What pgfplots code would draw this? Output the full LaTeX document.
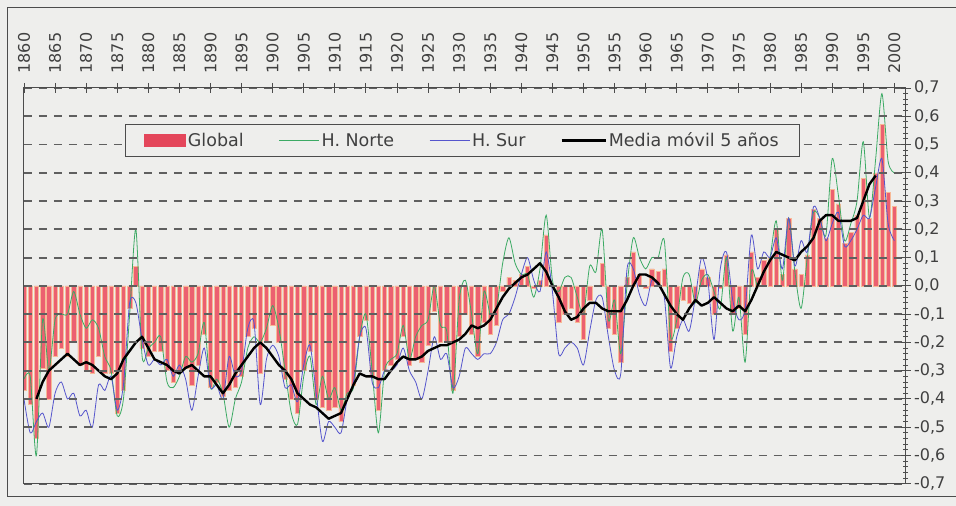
\documentclass[border=0pt]{standalone}
\usepackage{pgfplots}
\pgfplotsset{compat=1.18}
\usepackage{pgfplotstable}
\usepackage{fontspec}
\setmainfont{DejaVu Sans}
\definecolor{bg}{RGB}{238,238,236}
\definecolor{barfill}{RGB}{236,96,112}
\definecolor{baredge}{RGB}{247,185,150}
\definecolor{legbar}{RGB}{228,70,90}
\definecolor{nh}{RGB}{60,170,100}
\definecolor{sh}{RGB}{85,85,205}
\definecolor{gridc}{RGB}{95,95,95}

\pgfplotstableread{
year G N S
1860 -0.37 -0.33 -0.40
1861 -0.42 -0.32 -0.52
1862 -0.54 -0.60 -0.48
1863 -0.29 -0.12 -0.45
1864 -0.40 -0.30 -0.50
1865 -0.25 -0.12 -0.38
1866 -0.22 -0.10 -0.34
1867 -0.25 -0.10 -0.40
1868 -0.20 -0.02 -0.38
1869 -0.28 -0.10 -0.46
1870 -0.30 -0.15 -0.44
1871 -0.31 -0.12 -0.50
1872 -0.25 -0.15 -0.35
1873 -0.31 -0.25 -0.37
1874 -0.31 -0.30 -0.32
1875 -0.45 -0.46 -0.44
1876 -0.37 -0.40 -0.35
1877 -0.08 -0.10 -0.06
1878 0.07 0.20 -0.06
1879 -0.22 -0.25 -0.19
1880 -0.25 -0.22 -0.28
1881 -0.23 -0.20 -0.26
1882 -0.23 -0.18 -0.28
1883 -0.30 -0.34 -0.26
1884 -0.34 -0.36 -0.32
1885 -0.30 -0.32 -0.28
1886 -0.29 -0.25 -0.33
1887 -0.35 -0.27 -0.44
1888 -0.28 -0.24 -0.32
1889 -0.17 -0.13 -0.22
1890 -0.36 -0.36 -0.36
1891 -0.34 -0.33 -0.35
1892 -0.39 -0.38 -0.40
1893 -0.37 -0.50 -0.25
1894 -0.36 -0.40 -0.32
1895 -0.32 -0.34 -0.30
1896 -0.18 -0.22 -0.15
1897 -0.15 -0.18 -0.13
1898 -0.31 -0.20 -0.42
1899 -0.20 -0.15 -0.26
1900 -0.14 -0.07 -0.21
1901 -0.20 -0.15 -0.25
1902 -0.33 -0.30 -0.36
1903 -0.40 -0.45 -0.35
1904 -0.45 -0.49 -0.41
1905 -0.30 -0.32 -0.28
1906 -0.23 -0.25 -0.21
1907 -0.40 -0.42 -0.38
1908 -0.43 -0.32 -0.55
1909 -0.44 -0.40 -0.48
1910 -0.43 -0.36 -0.50
1911 -0.48 -0.44 -0.52
1912 -0.39 -0.38 -0.40
1913 -0.35 -0.36 -0.34
1914 -0.18 -0.18 -0.18
1915 -0.12 -0.10 -0.15
1916 -0.32 -0.30 -0.34
1917 -0.44 -0.52 -0.36
1918 -0.30 -0.30 -0.30
1919 -0.28 -0.26 -0.30
1920 -0.26 -0.24 -0.28
1921 -0.18 -0.14 -0.22
1922 -0.28 -0.26 -0.30
1923 -0.26 -0.18 -0.34
1924 -0.27 -0.14 -0.40
1925 -0.21 -0.12 -0.30
1926 -0.09 0.00 -0.18
1927 -0.20 -0.14 -0.26
1928 -0.20 -0.16 -0.24
1929 -0.37 -0.38 -0.36
1930 -0.18 -0.05 -0.32
1931 -0.10 0.02 -0.22
1932 -0.17 -0.10 -0.24
1933 -0.25 -0.24 -0.26
1934 -0.13 -0.02 -0.24
1935 -0.17 -0.10 -0.24
1936 -0.14 -0.08 -0.20
1937 -0.02 0.08 -0.12
1938 0.03 0.17 -0.10
1939 0.02 0.08 -0.04
1940 0.04 0.04 0.04
1941 0.07 0.04 0.10
1942 -0.01 -0.04 0.02
1943 0.02 0.06 -0.02
1944 0.18 0.25 0.12
1945 0.00 0.02 -0.02
1946 -0.13 -0.02 -0.24
1947 -0.10 0.03 -0.22
1948 -0.08 0.03 -0.20
1949 -0.13 -0.04 -0.22
1950 -0.19 -0.10 -0.28
1951 -0.05 0.07 -0.16
1952 0.00 0.05 -0.05
1953 0.08 0.20 -0.04
1954 -0.15 -0.12 -0.18
1955 -0.17 -0.05 -0.30
1956 -0.27 -0.24 -0.31
1957 0.03 0.00 0.06
1958 0.12 0.17 0.06
1959 0.04 0.10 -0.03
1960 -0.01 0.06 -0.07
1961 0.06 0.10 0.02
1962 0.05 0.10 0.00
1963 0.06 0.16 -0.04
1964 -0.23 -0.18 -0.29
1965 -0.15 -0.12 -0.18
1966 -0.05 0.03 -0.12
1967 -0.06 0.04 -0.16
1968 -0.05 -0.06 -0.04
1969 0.06 0.02 0.10
1970 0.03 0.04 0.02
1971 -0.10 -0.02 -0.19
1972 -0.01 -0.08 0.06
1973 0.11 0.10 0.12
1974 -0.10 -0.16 -0.05
1975 -0.08 -0.04 -0.12
1976 -0.17 -0.27 -0.08
1977 0.12 0.05 0.18
1978 0.03 0.00 0.06
1979 0.09 0.05 0.12
1980 0.10 0.10 0.10
1981 0.20 0.23 0.17
1982 0.04 0.02 0.06
1983 0.24 0.24 0.24
1984 0.06 0.05 0.07
1985 0.04 -0.08 0.16
1986 0.11 0.10 0.12
1987 0.27 0.26 0.28
1988 0.24 0.24 0.24
1989 0.17 0.18 0.16
1990 0.34 0.45 0.22
1991 0.29 0.32 0.26
1992 0.15 0.16 0.14
1993 0.19 0.22 0.16
1994 0.25 0.30 0.20
1995 0.38 0.51 0.25
1996 0.24 0.24 0.24
1997 0.40 0.45 0.35
1998 0.57 0.68 0.45
1999 0.33 0.44 0.22
2000 0.28 0.40 0.16
}\datos

\pgfplotstableread{
year M
1862 -0.40
1863 -0.34
1864 -0.30
1865 -0.28
1866 -0.26
1867 -0.24
1868 -0.26
1869 -0.28
1870 -0.27
1871 -0.28
1872 -0.30
1873 -0.32
1874 -0.33
1875 -0.31
1876 -0.26
1877 -0.23
1878 -0.20
1879 -0.18
1880 -0.22
1881 -0.26
1882 -0.27
1883 -0.28
1884 -0.30
1885 -0.31
1886 -0.29
1887 -0.28
1888 -0.30
1889 -0.32
1890 -0.32
1891 -0.35
1892 -0.38
1893 -0.35
1894 -0.31
1895 -0.28
1896 -0.25
1897 -0.22
1898 -0.20
1899 -0.22
1900 -0.25
1901 -0.28
1902 -0.30
1903 -0.33
1904 -0.38
1905 -0.40
1906 -0.42
1907 -0.43
1908 -0.45
1909 -0.47
1910 -0.46
1911 -0.45
1912 -0.40
1913 -0.35
1914 -0.31
1915 -0.32
1916 -0.32
1917 -0.33
1918 -0.33
1919 -0.30
1920 -0.27
1921 -0.25
1922 -0.26
1923 -0.26
1924 -0.25
1925 -0.23
1926 -0.22
1927 -0.21
1928 -0.21
1929 -0.20
1930 -0.19
1931 -0.17
1932 -0.14
1933 -0.15
1934 -0.14
1935 -0.12
1936 -0.08
1937 -0.04
1938 -0.01
1939 0.01
1940 0.03
1941 0.04
1942 0.06
1943 0.08
1944 0.05
1945 0.00
1946 -0.04
1947 -0.09
1948 -0.12
1949 -0.11
1950 -0.08
1951 -0.06
1952 -0.06
1953 -0.08
1954 -0.09
1955 -0.09
1956 -0.09
1957 -0.05
1958 0.00
1959 0.04
1960 0.04
1961 0.03
1962 0.01
1963 -0.03
1964 -0.07
1965 -0.10
1966 -0.12
1967 -0.08
1968 -0.05
1969 -0.07
1970 -0.06
1971 -0.04
1972 -0.06
1973 -0.08
1974 -0.09
1975 -0.07
1976 -0.09
1977 -0.05
1978 0.00
1979 0.05
1980 0.09
1981 0.12
1982 0.11
1983 0.10
1984 0.09
1985 0.12
1986 0.14
1987 0.17
1988 0.23
1989 0.25
1990 0.25
1991 0.23
1992 0.23
1993 0.23
1994 0.24
1995 0.30
1996 0.36
1997 0.39
}\media

\begin{document}
\begin{tikzpicture}[x=1pt,y=1pt]
\fill[bg] (0,0) rectangle (956,506);
\draw[gray!60!black, line width=1pt] (956,9) -- (8,9) -- (8,498) -- (956,498);
\begin{axis}[
  at={(24pt,22pt)}, anchor=south west,
  scale only axis, width=882pt, height=396pt,
  xmin=1860, xmax=2001.8, ymin=-0.7, ymax=0.7,
  axis background/.style={fill=bg},
  xtick={1860,1865,...,2000},
  xtick pos=right, xticklabel pos=right,
  ytick={-0.7,-0.6,-0.5,-0.4,-0.3,-0.2,-0.1,0,0.1,0.2,0.3,0.4,0.5,0.6,0.7},
  ytick pos=right, yticklabel pos=right,
  minor y tick num=4,
  tick align=center, major tick length=10pt, minor tick length=5pt,
  /pgf/number format/assume math mode=true,
  ticklabel style={font=\fontsize{16}{18}\selectfont, text=black!75},
  xticklabel style={rotate=90, anchor=west, /pgf/number format/1000 sep={}},
  xticklabel shift=6pt,
  yticklabel style={/pgf/number format/.cd, fixed, fixed zerofill, precision=1, use comma},
  ymajorgrids,
  grid style={gridc, dash pattern=on 8pt off 7pt, line width=1.9pt},
  axis line style={black!70, line width=1pt},
  tick style={black!70, line width=0.9pt},
  axis on top,
  legend columns=4,
  legend cell align=left,
  legend style={at={(0.1145,0.9095)}, anchor=north west,
    draw=black!70, line width=1pt, fill=bg,
    font=\fontsize{17.5}{19}\selectfont, text=black!75,
    inner xsep=19pt, inner ysep=6.5pt,
    /tikz/every even column/.append style={column sep=33pt}},
]
\addplot[ybar, bar width=4.3pt, fill=barfill, draw=baredge, line width=0.5pt,
  legend image code/.code={\fill[legbar] (0pt,-6pt) rectangle (41pt,6pt);}]
  table[x=year, y=G] {\datos};
\addlegendentry{Global}
\addplot[nh, line width=0.8pt, smooth, tension=0.45,
  legend image code/.code={\draw[nh, line width=1pt] (0pt,0pt) -- (40pt,0pt);}]
  table[x=year, y=N] {\datos};
\addlegendentry{H. Norte}
\addplot[sh, line width=0.8pt, smooth, tension=0.45,
  legend image code/.code={\draw[sh, line width=1pt] (0pt,0pt) -- (40pt,0pt);}]
  table[x=year, y=S] {\datos};
\addlegendentry{H. Sur}
\addplot[black, line width=2.4pt, line join=round,
  legend image code/.code={\draw[black, line width=2.4pt] (0pt,0pt) -- (44pt,0pt);}]
  table[x=year, y=M] {\media};
\addlegendentry{Media móvil 5 años}
\end{axis}
\end{tikzpicture}
\end{document}
